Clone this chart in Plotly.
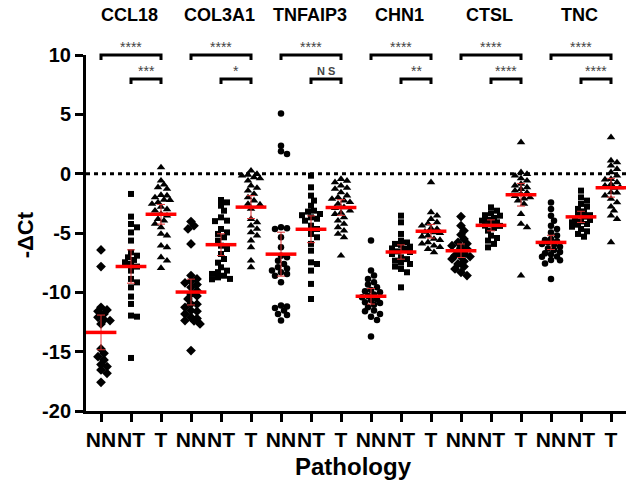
import numpy as np
import plotly.graph_objects as go

genes = ["CCL18", "COL3A1", "TNFAIP3", "CHN1", "CTSL", "TNC"]
groups = ["NN", "NT", "T"]
stars_long = ["****", "****", "****", "****", "****", "****"]
stars_short = ["***", "*", "N S", "**", "****", "****"]
y_ticks = [10, 5, 0, -5, -10, -15, -20]

CCL18_NN = [-6.43, -7.83, -11.26, -11.48, -11.6, -11.82, -12.1, -12.3, -12.38, -12.66, -14.77, -15.14, -15.42, -15.7, -16.09, -16.26, -16.54, -16.82, -17.58]
CCL18_NT = [-1.71, -3.62, -4.24, -4.52, -4.95, -5.64, -6.63, -6.91, -7.05, -7.27, -7.47, -7.61, -7.83, -8.17, -8.87, -9.16, -9.58, -10.36, -10.98, -11.96, -12.05, -15.53]
CCL18_T = [0.53, -0.59, -0.93, -1.15, -1.29, -1.85, -2.0, -2.22, -2.42, -2.55, -3.12, -3.4, -3.54, -3.82, -3.96, -4.24, -4.52, -5.08, -5.22, -6.07, -6.21, -7.05, -7.33, -7.95, -2.2, -2.8, -3.0, -1.8]
COL3A1_NN = [-4.04, -4.38, -4.66, -5.92, -8.59, -8.87, -9.07, -9.35, -9.58, -9.86, -10.14, -10.56, -10.98, -11.26, -11.54, -11.82, -12.1, -12.38, -12.66, -14.91, -9.2, -10.3, -11.0, -11.6, -12.2, -12.4]
COL3A1_NT = [-2.22, -2.42, -2.7, -3.12, -3.68, -3.96, -4.66, -4.95, -5.08, -5.36, -5.64, -6.07, -6.35, -6.77, -7.19, -7.89, -8.17, -8.45, -8.74, -8.87, -8.3, -8.6, -8.9, -7.5, -4.0]
COL3A1_T = [0.25, -0.03, -0.17, -0.31, -0.59, -1.01, -1.43, -1.71, -2.0, -2.27, -2.55, -2.97, -3.82, -4.1, -4.38, -4.66, -4.95, -5.22, -5.64, -6.21, -7.33, -7.89, -0.1, -0.4, -1.2, -2.6]
TNFAIP3_NN = [5.08, 2.36, 1.88, 1.66, -4.52, -4.66, -5.36, -6.21, -6.91, -7.05, -7.33, -7.61, -7.89, -8.17, -8.31, -8.45, -9.16, -11.12, -11.31, -11.54, -11.82, -12.38, -4.6, -8.0, -8.6, -11.2, -11.9]
TNFAIP3_NT = [-0.17, -1.15, -1.85, -2.27, -2.7, -3.12, -3.4, -3.68, -3.96, -4.38, -4.66, -5.08, -5.36, -5.92, -6.49, -7.47, -7.61, -8.17, -9.29, -10.56, -3.2, -3.5, -3.8]
TNFAIP3_T = [-0.45, -0.73, -1.01, -1.29, -1.58, -1.85, -2.13, -2.27, -2.55, -2.84, -3.12, -3.4, -3.68, -3.96, -4.24, -4.52, -4.8, -5.08, -5.36, -6.91, -0.6, -1.2, -2.0, -2.4, -2.9, -3.3]
CHN1_NN = [-5.64, -8.17, -8.59, -8.87, -9.16, -9.35, -9.58, -9.8, -10.0, -10.19, -10.42, -10.64, -10.84, -11.04, -11.26, -11.54, -11.82, -12.05, -12.33, -13.73, -10.3, -10.6, -9.9, -10.9, -11.6]
CHN1_NT = [-3.54, -4.1, -5.08, -5.64, -5.92, -6.15, -6.35, -6.55, -6.77, -7.05, -7.33, -7.61, -7.83, -8.03, -8.31, -9.58, -6.0, -6.6, -7.2, -7.5, -6.3, -5.8]
CHN1_T = [-0.73, -3.26, -3.54, -3.82, -4.1, -4.38, -4.66, -4.95, -5.22, -5.5, -5.79, -6.07, -6.35, -6.63, -4.2, -4.6, -5.0, -5.3, -5.6, -4.9, -5.9, -6.2]
CTSL_NN = [-3.62, -4.38, -4.8, -5.14, -5.5, -5.79, -6.07, -6.35, -6.55, -6.77, -6.99, -7.19, -7.39, -7.61, -7.83, -8.03, -8.31, -8.59, -6.2, -6.9, -7.0, -5.9]
CTSL_NT = [-2.84, -3.12, -3.34, -3.54, -3.73, -3.96, -4.19, -4.38, -4.57, -4.8, -5.22, -5.42, -5.64, -5.92, -6.21, -3.5, -3.9, -4.1, -4.4]
CTSL_T = [2.64, 0.11, -0.03, -0.17, -0.59, -0.87, -1.15, -1.43, -1.71, -2.0, -2.27, -2.55, -3.4, -4.24, -4.52, -8.59, -1.3, -1.6, -1.9, -2.1, -0.4, -1.0]
TNC_NN = [-2.42, -2.97, -3.54, -3.96, -4.38, -4.66, -4.95, -5.22, -5.5, -5.7, -5.92, -6.15, -6.43, -6.71, -6.99, -7.27, -7.56, -8.87, -5.8, -6.0, -6.3, -6.6, -7.0, -7.3, -5.6, -6.8]
TNC_NT = [-1.43, -2.0, -2.27, -2.55, -2.78, -2.97, -3.18, -3.4, -3.62, -3.82, -4.02, -4.24, -4.47, -4.66, -4.86, -5.08, -5.31, -3.5, -3.9, -4.1, -4.3]
TNC_T = [3.06, 1.1, 0.95, 0.67, 0.39, 0.11, -0.17, -0.45, -0.73, -1.01, -1.15, -1.58, -1.85, -2.13, -2.42, -2.78, -3.12, -3.54, -3.82, -5.79, -0.5, -1.2, -1.6, -0.9]

series = [
    CCL18_NN, CCL18_NT, CCL18_T,
    COL3A1_NN, COL3A1_NT, COL3A1_T,
    TNFAIP3_NN, TNFAIP3_NT, TNFAIP3_T,
    CHN1_NN, CHN1_NT, CHN1_T,
    CTSL_NN, CTSL_NT, CTSL_T,
    TNC_NN, TNC_NT, TNC_T,
]
nn_symbols = ["diamond", "diamond", "circle", "circle", "diamond", "circle"]

# ---------- layout geometry ----------
W, H = 632, 487
ML, MR, MT, MB = 86, 6, 55, 76
YMIN, YMAX = -20, 10
NCAT = len(series)
plot_w = W - ML - MR
plot_h = H - MT - MB
px_x = plot_w / NCAT            # px per category
px_y = plot_h / (YMAX - YMIN)   # px per unit


def ypaper(v):
    return (v - YMIN) / (YMAX - YMIN)


def swarm(vals, d=5.0, step=3.0, maxk=3):
    """deterministic beeswarm offsets (in category units)"""
    vals = np.asarray(vals, float)
    order = np.argsort(-vals)
    placed = []
    offs = np.zeros(len(vals))
    for i in order:
        y = vals[i] * px_y
        best, best_cost = 0.0, None
        for k in range(0, maxk + 1):
            cands = [0.0] if k == 0 else [k * step, -k * step]
            for c in cands:
                mind = min([np.hypot(c - px, y - py) for px, py in placed] + [99.0])
                if mind >= d:
                    best = c
                    best_cost = -1
                    break
                if best_cost is None or mind > best_cost:
                    best, best_cost = c, mind
            if best_cost == -1:
                break
        placed.append((best, y))
        offs[i] = best / px_x
    return offs


fig = go.Figure()

sym_sizes = {"diamond": 7.5, "circle": 6.5, "square": 6, "triangle-up": 7.5}

for idx, vals in enumerate(series):
    g = idx // 3
    k = idx % 3
    sym = nn_symbols[g] if k == 0 else ("square" if k == 1 else "triangle-up")
    offs = swarm(vals)
    fig.add_trace(go.Scatter(
        x=idx + offs, y=vals, mode="markers",
        marker=dict(symbol=sym, size=sym_sizes[sym], color="black", line=dict(width=0)),
        showlegend=False, hoverinfo="y"))

# mean and 95% CI
for idx, vals in enumerate(series):
    a = np.asarray(vals, float)
    n = len(a)
    m = a.mean()
    sem = a.std(ddof=1) / np.sqrt(n)
    t = 1.96 + 2.4 / (n - 1)
    fig.add_trace(go.Scatter(
        x=[idx], y=[m], mode="markers",
        marker=dict(symbol="line-ew", size=22, line=dict(color="red", width=3.5)),
        error_y=dict(type="data", array=[t * sem], color="#e03030", thickness=1, width=4),
        showlegend=False, hoverinfo="y"))

shapes = []
# dotted zero line
shapes.append(dict(type="line", xref="paper", yref="y", x0=0, x1=1, y0=0, y1=0,
                   line=dict(color="black", width=3, dash="4px,4px")))

annotations = []
drop = 5 / px_y
for g, gene in enumerate(genes):
    c0, c1, c2 = 3 * g, 3 * g + 1, 3 * g + 2
    yl = YMAX
    shapes.append(dict(type="path", xref="x", yref="paper",
                       path=f"M {c0} {ypaper(yl - drop)} L {c0} {ypaper(yl)} L {c2} {ypaper(yl)} L {c2} {ypaper(yl - drop)}",
                       line=dict(color="black", width=3)))
    ys = YMAX - 24 / px_y
    shapes.append(dict(type="path", xref="x", yref="paper",
                       path=f"M {c1} {ypaper(ys - drop)} L {c1} {ypaper(ys)} L {c2} {ypaper(ys)} L {c2} {ypaper(ys - drop)}",
                       line=dict(color="black", width=3)))
    annotations.append(dict(x=c1, y=ypaper(yl), xref="x", yref="paper", text=stars_long[g],
                            showarrow=False, yanchor="bottom", yshift=-2,
                            font=dict(family="Liberation Sans, Arial", size=14, color="#444444")))
    is_ns = stars_short[g] == "N S"
    annotations.append(dict(x=(c1 + c2) / 2, y=ypaper(ys), xref="x", yref="paper", text=stars_short[g],
                            showarrow=False, yanchor="bottom", yshift=(0 if is_ns else -2),
                            font=dict(family="Liberation Sans, Arial", size=(11 if is_ns else 14),
                                      color="#444444", weight=("bold" if is_ns else "normal"))))
    annotations.append(dict(x=c1 - 0.05, y=ypaper(YMAX + 40 / px_y), xref="x", yref="paper", text=gene,
                            showarrow=False, yanchor="middle",
                            font=dict(family="Liberation Sans, Arial", size=18, color="black", weight="bold")))

# axis titles
annotations.append(dict(x=(NCAT - 1) / 2 - 0.1, y=ypaper(YMIN - 55 / px_y), xref="x", yref="paper",
                        text="Pathology", showarrow=False, yanchor="middle",
                        font=dict(family="Liberation Sans, Arial", size=24, color="black", weight="bold")))
annotations.append(dict(x=-(ML - 25) / plot_w, y=ypaper(-5.2), xref="paper", yref="paper",
                        text="-ΔCt", showarrow=False, textangle=-90, xanchor="center", yanchor="middle",
                        font=dict(family="Liberation Sans, Arial", size=22, color="black", weight="bold")))

tick_text = [groups[i % 3] for i in range(NCAT)]

fig.update_layout(
    width=W, height=H,
    margin=dict(l=ML, r=MR, t=MT, b=MB, pad=0, autoexpand=False),
    plot_bgcolor="white", paper_bgcolor="white",
    shapes=shapes, annotations=annotations,
    showlegend=False,
    xaxis=dict(range=[-0.5, NCAT - 0.5], tickmode="array", tickvals=list(range(NCAT)),
               ticktext=tick_text, tickangle=0, showgrid=False, zeroline=False, automargin=False,
               showline=True, linecolor="black", linewidth=3,
               ticks="outside", ticklen=8, tickwidth=3, tickcolor="black",
               tickfont=dict(family="Liberation Sans, Arial", size=21,
                             color="black", weight="bold")),
    yaxis=dict(range=[YMIN, YMAX], tickmode="array", tickvals=y_ticks, automargin=False,
               ticktext=[str(v) for v in y_ticks], showgrid=False, zeroline=False,
               showline=True, linecolor="black", linewidth=3,
               ticks="outside", ticklen=8, tickwidth=3, tickcolor="black",
               tickfont=dict(family="Liberation Sans, Arial", size=20, color="black", weight="bold")),
)

fig.write_html("out.html", config={"displayModeBar": False},
               post_script="document.body.style.margin='0';document.body.style.overflow='hidden';")
